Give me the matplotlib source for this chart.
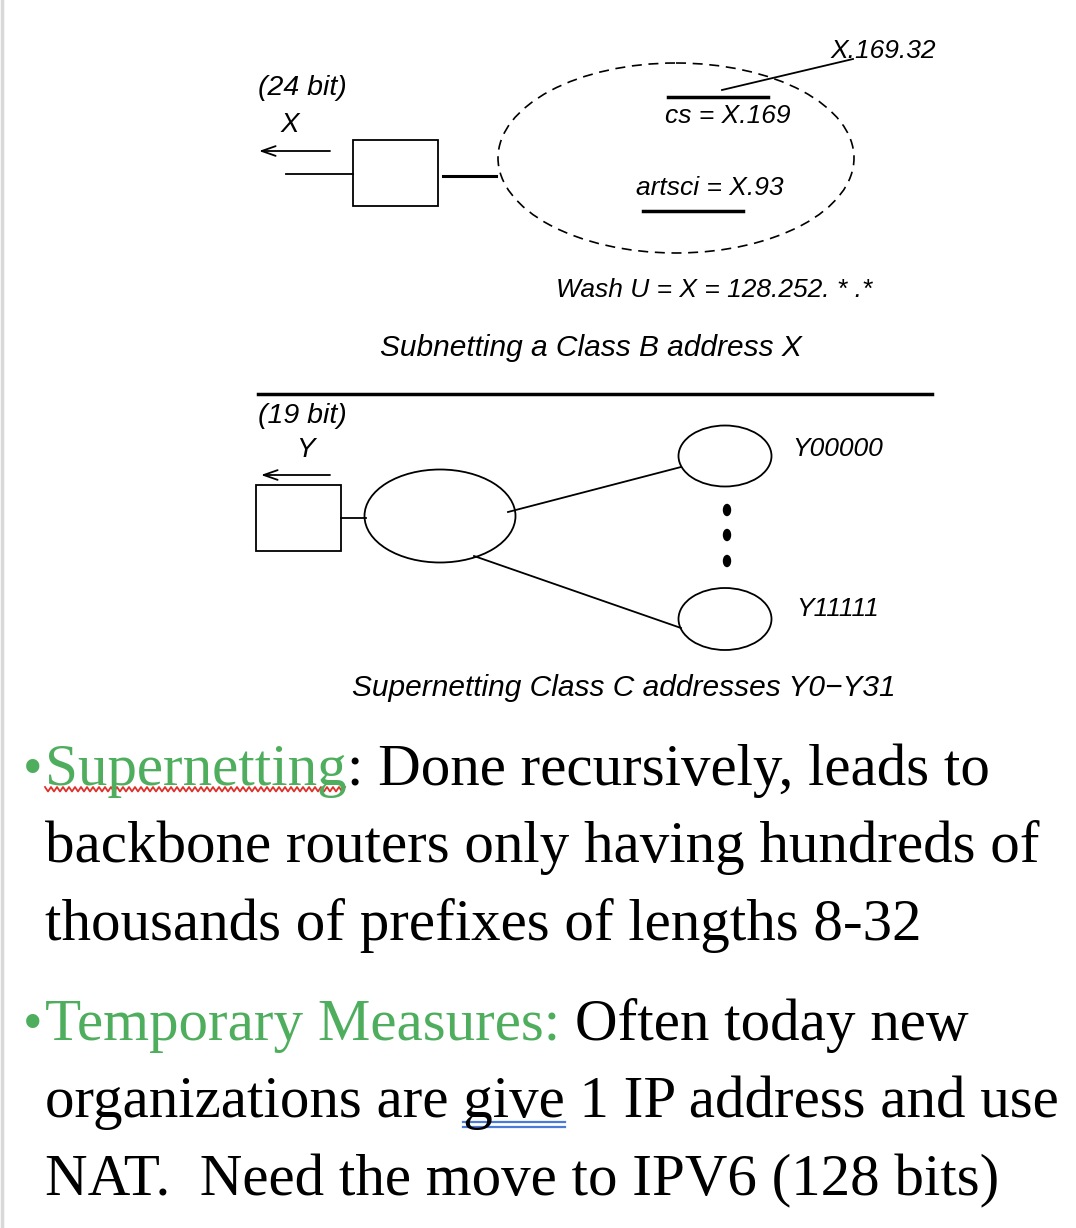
import matplotlib
matplotlib.use("Agg")
import matplotlib.pyplot as plt
import numpy as np
from matplotlib.patches import Ellipse, Rectangle

W, H = 1076, 1228

GREEN = "#4fae5e"
SANS = ["Liberation Sans", "DejaVu Sans"]
SERIF = ["Liberation Serif", "DejaVu Serif"]

# top diagram: subnetting
sub_labels = ["(24 bit)", "X", "X.169.32", "cs = X.169", "artsci = X.93",
              "Wash U = X = 128.252. * .*"]
sub_caption = "Subnetting a Class B address X"

# bottom diagram: supernetting
sup_labels = ["(19 bit)", "Y", "Y00000", "Y11111"]
sup_caption = "Supernetting Class C addresses Y0\u2212Y31"

# bullet lines: list of (text, colour) segments
bullets = [
    [("\u2022", GREEN), ("Supernetting", GREEN), (": Done recursively, leads to", "black")],
    [("backbone routers only having hundreds of", "black")],
    [("thousands of prefixes of lengths 8-32", "black")],
    [("\u2022", GREEN), ("Temporary Measures:", GREEN), (" Often today new", "black")],
    [("organizations are give 1 IP address and use", "black")],
    [("NAT.  Need the move to IPV6 (128 bits)", "black")],
]
baselines = [785, 862, 940, 1040, 1117, 1195]

fig = plt.figure(figsize=(W / 100, H / 100), dpi=100)
ax = fig.add_axes([0, 0, 1, 1])
ax.set_xlim(0, W)
ax.set_ylim(H, 0)
ax.axis("off")

# faint page edge
ax.plot([1.5, 1.5], [0, H], color="#d8d8d8", lw=2.5)


def itext(x, y, s, size, ha="left"):
    ax.text(x, y, s, fontsize=size, style="italic", family=SANS,
            ha=ha, va="center")


def arrow_left(x0, x1, y):
    ax.annotate("", xy=(x1, y), xytext=(x0, y),
                arrowprops=dict(arrowstyle="->,head_length=1.0,head_width=0.35",
                                lw=1.3, color="black", shrinkA=0, shrinkB=0))


# ---- subnetting diagram
itext(258, 88, sub_labels[0], 20.5)
itext(281, 125, sub_labels[1], 20)
arrow_left(330, 259, 151)
ax.plot([286, 353], [174, 174], color="black", lw=1.3)
ax.add_patch(Rectangle((353, 140), 85, 66, fill=False, lw=1.3, ec="black"))
ax.plot([443, 496], [176, 176], color="black", lw=2.2)
ax.add_patch(Ellipse((676, 158), 356, 190, fill=False, lw=1.2, ec="black",
                     ls=(0, (6, 4))))
ax.plot([668, 768], [97, 97], color="black", lw=2.5)
ax.plot([722, 853], [90, 59], color="black", lw=1.3)
itext(830, 51, sub_labels[2], 19)
itext(665, 116, sub_labels[3], 19)
itext(636, 188, sub_labels[4], 19)
ax.plot([643, 743], [211, 211], color="black", lw=2.5)
itext(556, 290, sub_labels[5], 19)
itext(380, 348, sub_caption, 21.5)

ax.plot([258, 932], [394, 394], color="black", lw=2.5)

# ---- supernetting diagram
itext(258, 416, sup_labels[0], 20.5)
itext(296, 450, sup_labels[1], 20)
arrow_left(330, 261, 475)
ax.add_patch(Rectangle((256, 485), 85, 66, fill=False, lw=1.3, ec="black"))
ax.plot([341, 366], [518, 518], color="black", lw=1.3)
ax.add_patch(Ellipse((440, 516), 151, 93, fill=False, lw=1.3, ec="black"))
ax.add_patch(Ellipse((725, 456), 93, 61, fill=False, lw=1.3, ec="black"))
ax.add_patch(Ellipse((725, 619), 93, 62, fill=False, lw=1.3, ec="black"))
ax.plot([508, 681], [512, 467], color="black", lw=1.3)
ax.plot([474, 681], [556, 628], color="black", lw=1.3)
for yd in (510, 535, 561):
    ax.add_patch(Ellipse((727, yd), 7, 11, color="black"))
itext(792, 449, sup_labels[2], 19)
itext(796, 609, sup_labels[3], 19)
itext(352, 688, sup_caption, 21.5)

# ---- bullet text
fig.canvas.draw()
renderer = fig.canvas.get_renderer()
BODY = 42.5


def width_of(s):
    t = ax.text(0, 0, s, fontsize=BODY, family=SERIF)
    bb = t.get_window_extent(renderer)
    t.remove()
    return bb.width


space_w = width_of("a a") - width_of("aa")
seg_pos = {}
for li, (line, yb) in enumerate(zip(bullets, baselines)):
    x = 45
    for si, (s, col) in enumerate(line):
        if s == "\u2022":
            ax.text(33, yb - 14, s, fontsize=40, color=col, family=SERIF,
                    ha="center", va="center")
            continue
        lead = len(s) - len(s.lstrip(" "))
        x += lead * space_w
        t = ax.text(x, yb, s.lstrip(" "), fontsize=BODY, color=col,
                    family=SERIF, va="baseline")
        seg_pos[(li, si)] = (x, x + t.get_window_extent(renderer).width)
        x = seg_pos[(li, si)][1]

# red spell-check squiggle under "Supernetting"
x0, x1 = seg_pos[(0, 1)]
xs = np.arange(x0, x1 + 1, 3.0)
ys = np.where(np.arange(len(xs)) % 2 == 0, 787.0, 791.5)
ax.plot(xs, ys, color="#e0302a", lw=1.3)

# blue double underline under "give"
full = bullets[4][0][0]
pre = full.split("give")[0]
gx0 = 45 + width_of(pre.rstrip()) + space_w
gx1 = gx0 + width_of("give")
for yy in (1122, 1127):
    ax.plot([gx0, gx1], [yy, yy], color="#4a7bd6", lw=1.6)

fig.savefig("out.png", dpi=100)
